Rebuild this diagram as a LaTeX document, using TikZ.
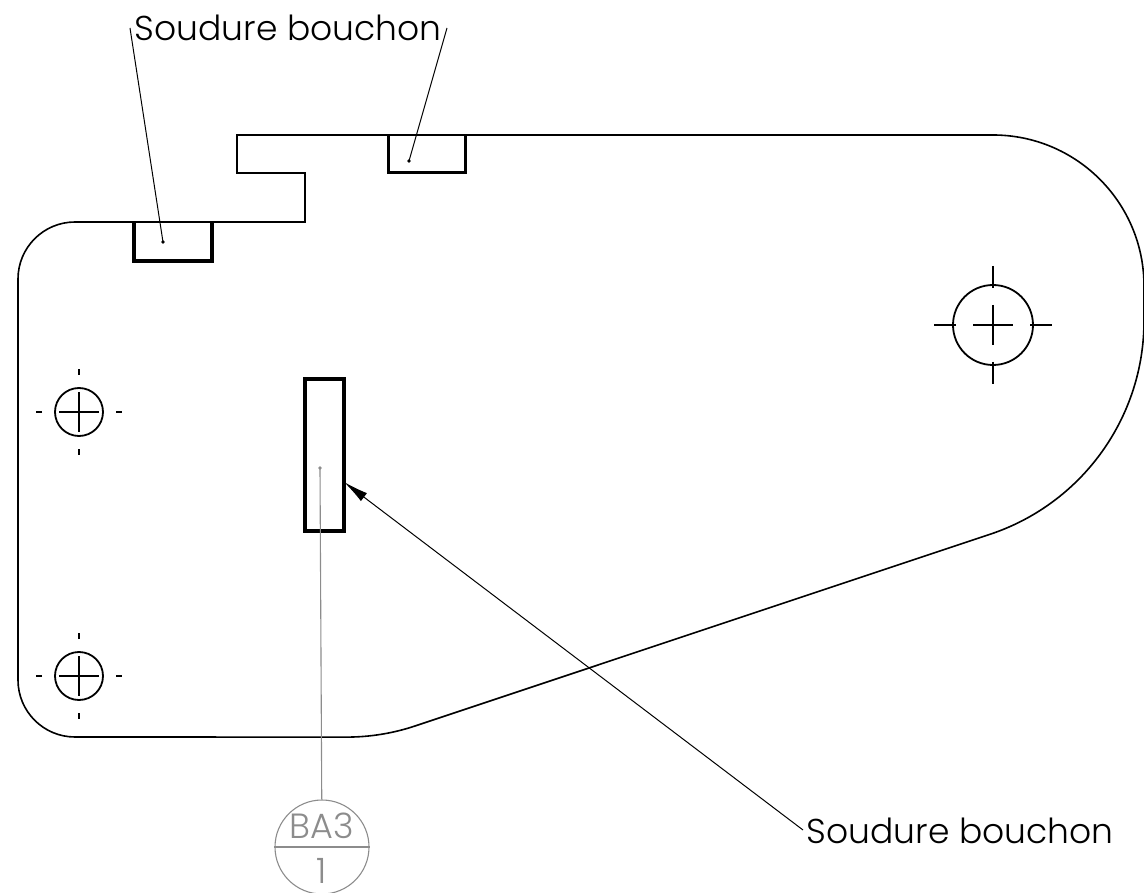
\documentclass[tikz,border=0pt]{standalone}
\usepackage{fontspec}
\setmainfont{Poppins Light}
\usetikzlibrary{arrows.meta}
\newcommand{\drillhole}[5]{% name, x, y, radius, start of outer marks
	\node[hole, minimum size=2*#4] (#1) at (#2,#3) {};
	\draw [cross] (#2-20,#3) -- (#2+20,#3);
	\draw [cross] (#2,#3-20) -- (#2,#3+20);
	\foreach \dx/\dy in {1/0,-1/0,0/1,0/-1}
		\draw [cross] (#2+\dx*#5,#3+\dy*#5) -- ++(\dx*6,\dy*6);
}
\begin{document}
\begin{tikzpicture}[x=1pt, y=-1pt, line width=1.6pt]
	\tikzstyle{hole}   = [circle, draw, line width=1.8pt, inner sep=0pt]
	\tikzstyle{cross}  = [line width=1.2pt]
	\tikzstyle{label}  = [inner sep=0pt, anchor=base west, font=\fontsize{34.5}{35}\selectfont]
	\tikzstyle{leader} = [line width=1pt]
	\tikzstyle{grayed} = [draw=black!45, line width=1.1pt]
	\tikzstyle{tag}    = [text=black!45, inner sep=0pt, anchor=base, font=\fontsize{35}{35}\selectfont]
	\useasboundingbox (0,0) rectangle (1144,893);
	% outline of the plate
	\draw (237,135) -- (993,135) arc[start angle=-90, end angle=0, radius=151]
		-- (1144,320.8) arc[start angle=0, end angle=71.57, radius=225]
		-- (415,726) arc[start angle=71.57, end angle=90, radius=216]
		-- (75,737) arc[start angle=90, end angle=180, radius=57]
		-- (18,279) arc[start angle=180, end angle=270, radius=57]
		-- (305,222) -- (305,173) -- (237,173) -- cycle;
	% welds
	\draw [line width=3.3pt] (134,222) -- (134,261) -- (212,261) -- (212,222);
	\draw [line width=3pt] (388,135) -- (388,173) -- (465,173) -- (465,135);
	\draw [line width=3.2pt] (305,379) rectangle (344,531);
	% holes
	\drillhole{holeA}{79}{412}{24}{37}
	\drillhole{holeB}{79}{676}{24}{37}
	\node[hole, minimum size=80pt] (holeC) at (993,325) {};
	\draw [cross] (973,325) -- (1013,325);
	\draw [cross] (993,305) -- (993,345);
	\draw [cross] (934,325) -- (956,325);
	\draw [cross] (1030,325) -- (1052,325);
	\draw [cross] (993,266) -- (993,288);
	\draw [cross] (993,362) -- (993,384);
	% labels and leaders
	\node[label] (top)    at (134,41)  {Soudure bouchon};
	\node[label] (bottom) at (806,843) {Soudure bouchon};
	\coordinate (topL)  at (130,28);
	\coordinate (topR)  at (447,28);
	\coordinate (botL)  at (803,830);
	\coordinate (dotA)  at (163,242);
	\coordinate (dotB)  at (409,161);
	\coordinate (dotC)  at (320,468);
	\coordinate (tip)   at (344,482);
	\fill (dotA) circle (1.8pt);
	\fill (dotB) circle (1.8pt);
	\fill [black!45] (dotC) circle (1.8pt);
	\draw [leader] (topL) -- (dotA);
	\draw [leader] (topR) -- (dotB);
	\draw [leader, -{Latex[length=25pt, width=10pt]}] (botL) -- (tip);
	% balloon
	\node[circle, grayed, draw, minimum size=94pt, inner sep=0pt] (balloon) at (322,847) {};
	\draw [grayed] (balloon.west) -- (balloon.east);
	\node[tag] (ba)  at (322,838) {BA3};
	\node[tag] (one) at (322,883) {1};
	\draw [grayed] (dotC) -- (balloon);
\end{tikzpicture}
\end{document}
